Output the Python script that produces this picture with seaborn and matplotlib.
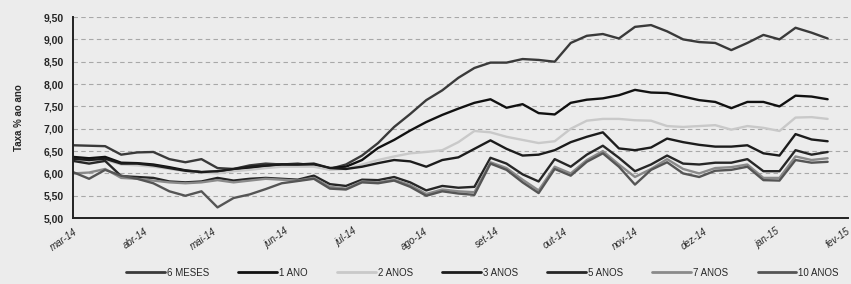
import pandas as pd
import numpy as np
import matplotlib
matplotlib.use("Agg")
import matplotlib.pyplot as plt
from matplotlib.ticker import FuncFormatter
import seaborn as sns

# weekly readings of the yields (% a.a.)
dates = pd.date_range("2014-03-01", periods=48, freq="7D")

seis_meses = [6.63, 6.62, 6.61, 6.42, 6.47, 6.48, 6.32, 6.25, 6.32, 6.12, 6.10, 6.18,
              6.22, 6.20, 6.22, 6.18, 6.10, 6.20, 6.40, 6.68, 7.04, 7.33, 7.64, 7.86,
              8.14, 8.36, 8.48, 8.48, 8.56, 8.54, 8.50, 8.92, 9.08, 9.12, 9.02, 9.28,
              9.32, 9.18, 9.00, 8.94, 8.92, 8.76, 8.92, 9.10, 9.00, 9.26, 9.15, 9.02]
um_ano = [6.37, 6.34, 6.37, 6.24, 6.23, 6.20, 6.14, 6.07, 6.03, 6.04, 6.08, 6.12,
          6.16, 6.20, 6.18, 6.20, 6.12, 6.15, 6.30, 6.57, 6.75, 6.96, 7.15, 7.31,
          7.45, 7.58, 7.66, 7.47, 7.55, 7.35, 7.32, 7.58, 7.65, 7.68, 7.75, 7.87,
          7.81, 7.80, 7.72, 7.64, 7.60, 7.46, 7.60, 7.60, 7.50, 7.74, 7.72, 7.66]
dois_anos = [6.30, 6.28, 6.30, 6.20, 6.18, 6.15, 6.10, 6.05, 6.02, 6.00, 6.05, 6.08,
             6.12, 6.15, 6.15, 6.15, 6.08, 6.10, 6.20, 6.30, 6.38, 6.45, 6.48, 6.52,
             6.70, 6.95, 6.92, 6.82, 6.75, 6.68, 6.72, 7.00, 7.18, 7.22, 7.22, 7.19,
             7.18, 7.06, 7.04, 7.06, 7.08, 6.98, 7.06, 7.02, 6.95, 7.25, 7.26, 7.22]
tres_anos = [6.33, 6.30, 6.33, 6.22, 6.22, 6.18, 6.12, 6.06, 6.03, 6.05, 6.10, 6.15,
             6.18, 6.20, 6.20, 6.22, 6.12, 6.10, 6.15, 6.23, 6.30, 6.27, 6.15, 6.30,
             6.36, 6.55, 6.74, 6.55, 6.40, 6.42, 6.52, 6.70, 6.82, 6.92, 6.56, 6.52,
             6.58, 6.78, 6.70, 6.64, 6.60, 6.60, 6.63, 6.45, 6.40, 6.88, 6.76, 6.72]
cinco_anos = [6.28, 6.22, 6.28, 5.94, 5.92, 5.90, 5.82, 5.80, 5.82, 5.90, 5.84, 5.88,
              5.90, 5.88, 5.86, 5.95, 5.76, 5.72, 5.86, 5.85, 5.92, 5.80, 5.62, 5.72,
              5.68, 5.70, 6.35, 6.22, 5.98, 5.82, 6.32, 6.15, 6.42, 6.62, 6.35, 6.05,
              6.20, 6.40, 6.22, 6.20, 6.24, 6.24, 6.32, 6.05, 6.05, 6.52, 6.42, 6.48]
sete_anos = [6.00, 6.02, 6.10, 5.90, 5.88, 5.84, 5.80, 5.78, 5.80, 5.85, 5.80, 5.84,
             5.88, 5.86, 5.84, 5.90, 5.70, 5.66, 5.82, 5.80, 5.86, 5.74, 5.54, 5.64,
             5.60, 5.58, 6.25, 6.12, 5.86, 5.62, 6.15, 6.00, 6.30, 6.50, 6.20, 5.92,
             6.10, 6.32, 6.10, 6.00, 6.12, 6.14, 6.20, 5.90, 5.90, 6.38, 6.30, 6.34]
dez_anos = [6.03, 5.88, 6.08, 5.95, 5.88, 5.78, 5.60, 5.50, 5.60, 5.24, 5.45, 5.53,
            5.65, 5.78, 5.83, 5.88, 5.66, 5.64, 5.80, 5.78, 5.84, 5.70, 5.50, 5.60,
            5.55, 5.52, 6.22, 6.08, 5.80, 5.56, 6.10, 5.95, 6.26, 6.45, 6.15, 5.75,
            6.08, 6.25, 6.00, 5.92, 6.06, 6.08, 6.15, 5.85, 5.84, 6.30, 6.24, 6.26]

series_names = ["6 MESES", "1 ANO", "2 ANOS", "3 ANOS", "5 ANOS", "7 ANOS", "10 ANOS"]
series_values = [seis_meses, um_ano, dois_anos, tres_anos, cinco_anos, sete_anos, dez_anos]
month_labels = ["mar-14", "abr-14", "mai-14", "jun-14", "jul-14", "ago-14",
                "set-14", "out-14", "nov-14", "dez-14", "jan-15", "fev-15"]
y_ticks = [5.00, 5.50, 6.00, 6.50, 7.00, 7.50, 8.00, 8.50, 9.00, 9.50]

colors = {"6 MESES": "#3a3a3a", "1 ANO": "#111111", "2 ANOS": "#c9c9c9",
          "3 ANOS": "#1c1c1c", "5 ANOS": "#262626", "7 ANOS": "#8a8a8a",
          "10 ANOS": "#555555"}

df = pd.concat([pd.DataFrame({"data": dates, "taxa": v, "prazo": n})
                for n, v in zip(series_names, series_values)], ignore_index=True)

sns.set_style("white")
plt.rcParams["font.family"] = ["Liberation Sans", "DejaVu Sans"]
bg = "#ececec"

fig = plt.figure(figsize=(8.51, 2.84), dpi=100, facecolor=bg)
ax = fig.add_axes([0.0858, 0.232, 0.911, 0.708], facecolor=bg)

sns.lineplot(data=df, x="data", y="taxa", hue="prazo", hue_order=series_names,
             palette=colors, linewidth=1.7, ax=ax, legend=False)

ax.set_ylim(5.0, 9.5)
ax.set_yticks(y_ticks)
ax.yaxis.set_major_formatter(FuncFormatter(lambda v, p: f"{v:.2f}".replace(".", ",")))
for y in y_ticks[1:]:
    ax.axhline(y, color="#a8a8a8", lw=0.8, ls=(0, (4, 3)), zorder=0)

month_ticks = pd.date_range("2014-03-01", periods=12, freq="MS")
ax.set_xlim(pd.Timestamp("2014-03-01"), pd.Timestamp("2015-02-02"))
ax.set_xticks(month_ticks)
ax.set_xticklabels(month_labels, rotation=35, ha="right", rotation_mode="anchor",
                   fontsize=7, style="italic")
ax.tick_params(axis="y", labelsize=7.5, length=3, width=1, direction="out")
ax.tick_params(axis="x", length=3, width=1, direction="out", pad=3)
for lab in ax.get_yticklabels():
    lab.set_fontweight("bold")

for s in ["top", "right"]:
    ax.spines[s].set_visible(False)
for s in ["left", "bottom"]:
    ax.spines[s].set_color("#222222")
    ax.spines[s].set_linewidth(1.4)

ax.set_xlabel("")
ax.set_ylabel("Taxa % ao ano", fontsize=7, fontweight="bold", labelpad=14)

handles = [plt.Line2D([], [], color=colors[n], lw=2) for n in series_names]
fig.legend(handles, series_names, loc="center", bbox_to_anchor=(0.567, 0.04),
           ncol=7, frameon=False, fontsize=7, handlelength=4, handletextpad=0.2,
           columnspacing=3.0)

fig.savefig("out.png", dpi=100, facecolor=bg)
